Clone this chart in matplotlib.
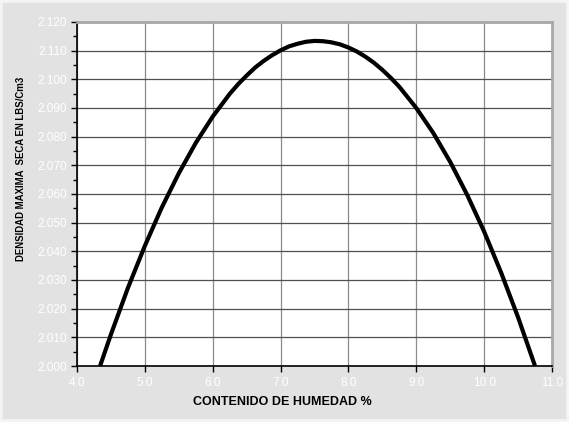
import matplotlib
matplotlib.use("Agg")
import matplotlib.pyplot as plt
from matplotlib.ticker import MultipleLocator, FormatStrFormatter
from matplotlib.patches import Rectangle

plt.rcParams['font.family'] = ['Liberation Sans', 'DejaVu Sans']

humedad = [4.34, 4.5, 4.75, 5.0, 5.25, 5.5, 5.75, 6.0, 6.25, 6.375, 6.5, 6.625,
           6.75, 6.875, 7.0, 7.125, 7.25, 7.375, 7.5, 7.625, 7.75, 7.875, 8.0,
           8.125, 8.25, 8.375, 8.5, 8.625, 8.75, 9.0, 9.25, 9.5, 9.75, 10.0,
           10.25, 10.5, 10.75]
densidad = [2.0000, 2.0110, 2.0272, 2.0419, 2.0553, 2.0672, 2.0778, 2.0870,
            2.0949, 2.0983, 2.1013, 2.1041, 2.1064, 2.1084, 2.1101, 2.1115,
            2.1124, 2.1131, 2.1134, 2.1133, 2.1129, 2.1122, 2.1111, 2.1097,
            2.1079, 2.1058, 2.1033, 2.1005, 2.0974, 2.0900, 2.0813, 2.0712,
            2.0597, 2.0469, 2.0326, 2.0170, 2.0000]

fig = plt.figure(figsize=(5.69, 4.22), dpi=100)
fig.patch.set_facecolor('#e2e2e2')
fig.patches.append(Rectangle((0, 0), 1, 1, transform=fig.transFigure,
                             fill=False, edgecolor='#f4f4f4', lw=4, zorder=0))
ax = fig.add_axes([0.1353, 0.1327, 0.9701 - 0.1353, 0.9479 - 0.1327])
ax.set_facecolor('white')

ax.plot(humedad, densidad, color='black', lw=3, solid_capstyle='butt',
        solid_joinstyle='round', zorder=3)

ax.set_xlim(4.0, 11.0)
ax.set_ylim(2.000, 2.120)
ax.xaxis.set_major_locator(MultipleLocator(1.0))
ax.yaxis.set_major_locator(MultipleLocator(0.010))
ax.yaxis.set_minor_locator(MultipleLocator(0.005))
ax.xaxis.set_major_formatter(FormatStrFormatter('%.1f'))
ax.yaxis.set_major_formatter(FormatStrFormatter('%.3f'))

ax.grid(True, axis='y', which='major', color='#505050', lw=0.9)
ax.grid(True, axis='x', which='major', color='#8c8c8c', lw=0.9)
ax.set_axisbelow(True)

ax.tick_params(axis='both', which='major', direction='out', length=4,
               width=1, color='black', labelcolor='white', labelsize=8.5)
ax.tick_params(axis='y', which='minor', direction='out', length=3, width=1,
               color='black')
ax.tick_params(axis='y', pad=3)
ax.tick_params(axis='x', pad=4)

for s in ['left', 'bottom']:
    ax.spines[s].set_color('black')
    ax.spines[s].set_linewidth(1.2)
for s in ['top', 'right']:
    ax.spines[s].set_color('#a8a8a8')
    ax.spines[s].set_linewidth(2)

fig.text(282 / 569, 1 - 402 / 422, 'CONTENIDO DE HUMEDAD %', fontsize=9,
         fontweight='bold', ha='center', va='center')
fig.text(21 / 569, 1 - 169 / 422, 'DENSIDAD MAXIMA  SECA EN LBS/Cm3',
         fontsize=6.9, fontweight='bold', ha='center', va='center', rotation=90)

fig.savefig('out.png', dpi=100, facecolor=fig.get_facecolor())
